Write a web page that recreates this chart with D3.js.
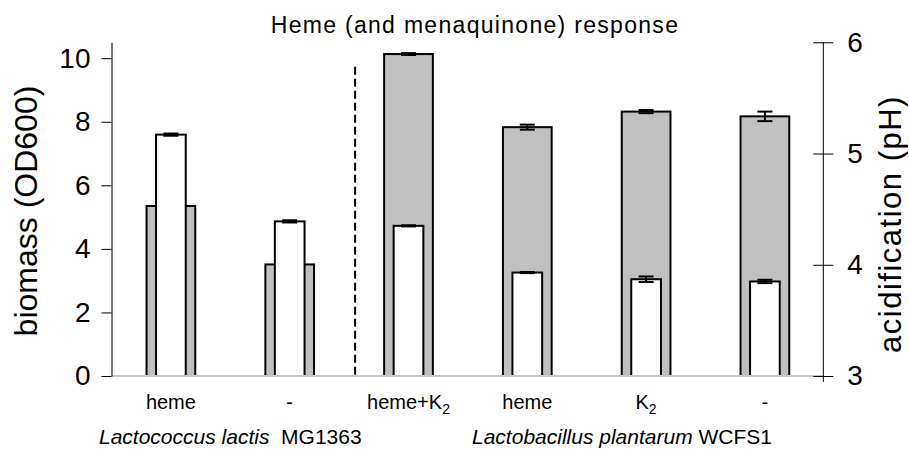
<!DOCTYPE html>
<html>
<head>
<meta charset="utf-8">
<script src="https://cdn.jsdelivr.net/npm/d3@7"></script>
<style>
  body { margin: 0; background: #fff; }
  text { font-family: "Liberation Sans", Arial, sans-serif; fill: #000; }
</style>
</head>
<body>
<script>
// treatments, in drawing order
const categories = ['heme', '-', 'heme+K2', 'heme', 'K2', '-'];
// biomass (OD600), grey bars, left axis
const biomass = [5.35, 3.51, 10.13, 7.83, 8.32, 8.17];
const biomassErr = [0.02, 0.02, 0.03, 0.08, 0.05, 0.15];
// acidification (pH), white bars, right axis
const ph = [5.17, 4.39, 4.35, 3.93, 3.87, 3.85];
const phErr = [0.01, 0.01, 0.005, 0.005, 0.025, 0.015];
const leftTicks = [0, 2, 4, 6, 8, 10];
const rightTicks = [3, 4, 5, 6];

const svgWidth = 909,
  svgHeight = 453;
const body = d3.select('body');
const svg = body.append('svg')
  .attr('width', svgWidth)
  .attr('height', svgHeight);

const baseY = 376,
  topY = 42.3;

const xScale = d3.scaleBand()
  .domain(d3.range(categories.length))
  .range([111.5, 824.3])
  .padding(0);
const yLeft = d3.scaleLinear().domain([0, 10.5]).range([baseY, topY]);
const yRight = d3.scaleLinear().domain([3, 6]).range([baseY, topY]);

const step = xScale.step();
const greyW = step * 0.41,
  whiteW = step * 0.25,
  capW = 15;
const cx = (i) => xScale(i) + step / 2;

// title
svg.append('text')
  .attr('x', 475)
  .attr('y', 33)
  .attr('text-anchor', 'middle')
  .style('font-size', '23px')
  .style('letter-spacing', '1.3px')
  .text('Heme (and menaquinone) response');

// dashed separator between the two species
svg.append('line')
  .attr('x1', xScale(2) + 6).attr('x2', xScale(2) + 6)
  .attr('y1', 66.7).attr('y2', baseY)
  .attr('stroke', '#000')
  .attr('stroke-width', 2)
  .attr('stroke-dasharray', '8,4');

// grey bars (biomass)
svg.selectAll('rect.biomass')
  .data(biomass)
  .enter()
  .append('rect')
  .attr('class', 'biomass')
  .attr('x', (d, i) => cx(i) - greyW / 2)
  .attr('y', (d) => yLeft(d))
  .attr('width', greyW)
  .attr('height', (d) => baseY - yLeft(d))
  .attr('fill', '#c0c0c0')
  .attr('stroke', '#000')
  .attr('stroke-width', 2);

function errorBars(cls, vals, errs, scale) {
  const g = svg.selectAll('g.' + cls)
    .data(vals)
    .enter()
    .append('g')
    .attr('class', cls)
    .attr('stroke', '#000')
    .attr('stroke-width', 2);
  g.append('line')
    .attr('x1', (d, i) => cx(i)).attr('x2', (d, i) => cx(i))
    .attr('y1', (d, i) => scale(d + errs[i]))
    .attr('y2', (d, i) => scale(d - errs[i]));
  g.append('line')
    .attr('x1', (d, i) => cx(i) - capW / 2).attr('x2', (d, i) => cx(i) + capW / 2)
    .attr('y1', (d, i) => scale(d + errs[i]))
    .attr('y2', (d, i) => scale(d + errs[i]));
  g.append('line')
    .attr('x1', (d, i) => cx(i) - capW / 2).attr('x2', (d, i) => cx(i) + capW / 2)
    .attr('y1', (d, i) => scale(d - errs[i]))
    .attr('y2', (d, i) => scale(d - errs[i]));
}

errorBars('biomass-err', biomass, biomassErr, yLeft);

// white bars (pH)
svg.selectAll('rect.ph')
  .data(ph)
  .enter()
  .append('rect')
  .attr('class', 'ph')
  .attr('x', (d, i) => cx(i) - whiteW / 2)
  .attr('y', (d) => yRight(d))
  .attr('width', whiteW)
  .attr('height', (d) => baseY - yRight(d))
  .attr('fill', '#fff')
  .attr('stroke', '#000')
  .attr('stroke-width', 2);

errorBars('ph-err', ph, phErr, yRight);

// baseline
svg.append('line')
  .attr('x1', xScale.range()[0]).attr('x2', xScale.range()[1])
  .attr('y1', baseY).attr('y2', baseY)
  .attr('stroke', '#c8c8c8')
  .attr('stroke-width', 2);

// left axis
const leftAxis = svg.append('g')
  .attr('transform', 'translate(' + xScale.range()[0] + ',0)')
  .call(d3.axisLeft(yLeft).tickValues(leftTicks).tickSizeInner(10).tickSizeOuter(0).tickPadding(11));
leftAxis.selectAll('text')
  .style('font-size', '28px')
  .style('font-family', '"Liberation Sans", Arial, sans-serif');

// right axis, ticks cross the line
const rightX = xScale.range()[1] - 1;
const rightAxis = svg.append('g')
  .attr('transform', 'translate(' + rightX + ',0)')
  .call(d3.axisRight(yRight).tickValues(rightTicks).tickFormat(d3.format('d'))
    .tickSizeInner(10).tickSizeOuter(0).tickPadding(14));
rightAxis.select('.domain').remove();
rightAxis.selectAll('.tick line').attr('x1', -10);
rightAxis.append('line')
  .attr('x1', 0).attr('x2', 0)
  .attr('y1', yRight(6)).attr('y2', yRight(3) + 6)
  .attr('stroke', '#000');
rightAxis.selectAll('text')
  .style('font-size', '28px')
  .style('font-family', '"Liberation Sans", Arial, sans-serif');

// axis titles
svg.append('text')
  .attr('transform', 'translate(37,211) rotate(-90)')
  .attr('text-anchor', 'middle')
  .style('font-size', '32px')
  .text('biomass (OD600)');

svg.append('text')
  .attr('transform', 'translate(901,224) rotate(-90)')
  .attr('text-anchor', 'middle')
  .style('font-size', '31px')
  .style('letter-spacing', '1.5px')
  .text('acidification (pH)');

// category labels, K2 drawn with a subscript
const catLabels = svg.selectAll('text.cat')
  .data(categories)
  .enter()
  .append('text')
  .attr('class', 'cat')
  .attr('x', (d, i) => cx(i))
  .attr('y', 409)
  .attr('text-anchor', 'middle')
  .style('font-size', '20px');
catLabels.each(function(d) {
  const t = d3.select(this);
  if (d.endsWith('K2')) {
    t.append('tspan').text(d.slice(0, -1));
    t.append('tspan').attr('dy', 5).style('font-size', '14px').text('2');
  } else {
    t.text(d);
  }
});

// species labels
const sp1 = svg.append('text')
  .attr('x', (cx(0) + cx(1)) / 2)
  .attr('y', 444)
  .attr('text-anchor', 'middle')
  .style('font-size', '21px');
sp1.append('tspan').style('font-style', 'italic').text('Lactococcus lactis');
sp1.append('tspan').text('\u00a0 MG1363');

const sp2 = svg.append('text')
  .attr('x', 622)
  .attr('y', 444)
  .attr('text-anchor', 'middle')
  .style('font-size', '21px');
sp2.append('tspan').style('font-style', 'italic').text('Lactobacillus plantarum');
sp2.append('tspan').text(' WCFS1');
</script>
</body>
</html>
